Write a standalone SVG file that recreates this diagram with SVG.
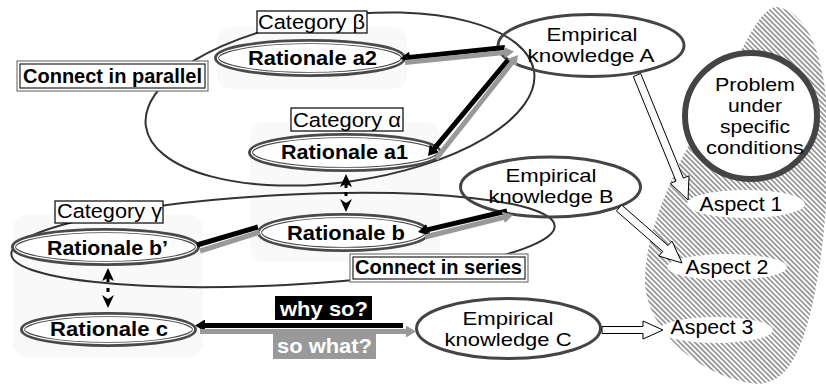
<svg xmlns="http://www.w3.org/2000/svg" width="826" height="385" viewBox="0 0 826 385">
<defs>
<style>
text { font-family: "Liberation Sans", Arial, Helvetica, sans-serif; fill: #000; }
.reg { font-size: 20.5px; text-anchor: middle; }
.ml { font-size: 19px; }
.bold { font-size: 21px; font-weight: bold; text-anchor: middle; }
.wt { fill: #fff; }
.bg { fill: #f9f9f9; }
.group { fill: none; stroke: #333; stroke-width: 2; }
.rat { fill: #fff; stroke: #4a4a4a; stroke-width: 5; }
.rat-in { fill: none; stroke: #fff; stroke-width: 1.3; }
.emp { fill: none; stroke: #444; stroke-width: 3; }
.aspect { fill: #fff; stroke: none; }
.cat { fill: #fff; stroke: #000; stroke-width: 1.2; }
.dbl-o { fill: #fff; stroke: #777; stroke-width: 1.2; }
.dbl-i { fill: none; stroke: #222; stroke-width: 1.2; }
.blk { fill: none; stroke: #000; stroke-width: 5; }
.gry { fill: none; stroke: #999; stroke-width: 5; }
.hollow { fill: #fbfbfb; stroke: #000; stroke-width: 1; }
.dot { fill: #000; }
</style>
<marker id="hb" viewBox="0 0 10 12" refX="3" refY="6" markerWidth="10" markerHeight="12" markerUnits="userSpaceOnUse" orient="auto">
<path d="M0,0 L10,6 L0,12 Z" fill="#000"/>
</marker>
<marker id="hg" viewBox="0 0 10 12" refX="3" refY="6" markerWidth="10" markerHeight="12" markerUnits="userSpaceOnUse" orient="auto">
<path d="M0,0 L10,6 L0,12 Z" fill="#999"/>
</marker>
<pattern id="hatch" patternUnits="userSpaceOnUse" width="3.6" height="3.6" patternTransform="rotate(-45)">
<rect width="3.6" height="3.6" fill="#fff"/>
<rect width="1.8" height="3.6" fill="#999"/>
</pattern>
</defs>

<!-- faint backgrounds -->
<g id="backgrounds">
<rect class="bg" x="217" y="27" width="190" height="62" rx="14"/>
<rect class="bg" x="250" y="122" width="190" height="140" rx="14"/>
<rect class="bg" x="13" y="215" width="190" height="142" rx="14"/>
</g>

<!-- problem area -->
<g id="problem-area">
<path d="M777,7 C800,10 826,40 828,130 C830,220 815,330 790,365 C780,380 765,386 750,383 C700,375 645,330 645,280 C645,220 690,140 715,100 C740,55 760,5 777,7 Z" fill="url(#hatch)"/>
</g>

<!-- grouping ellipses -->
<g id="category-beta-alpha">
<ellipse class="group" cx="340" cy="99" rx="196" ry="83" transform="rotate(-8 340 99)"/>
</g>
<g id="category-gamma">
<ellipse class="group" cx="283" cy="240" rx="272" ry="45" transform="rotate(-3 283 240)"/>
</g>

<!-- rationale nodes -->
<g id="rationale-a2">
<ellipse class="rat" cx="310" cy="58" rx="93.5" ry="16.5"/>
<ellipse class="rat-in" cx="310" cy="58" rx="92.5" ry="15.5"/>
<text class="bold" x="312.5" y="65" textLength="129" lengthAdjust="spacingAndGlyphs">Rationale a2</text>
</g>
<g id="rationale-a1">
<ellipse class="rat" cx="345" cy="152.5" rx="94.5" ry="17"/>
<ellipse class="rat-in" cx="345" cy="152.5" rx="93.5" ry="16"/>
<text class="bold" x="344.5" y="159" textLength="127" lengthAdjust="spacingAndGlyphs">Rationale a1</text>
</g>
<g id="rationale-b">
<ellipse class="rat" cx="343.5" cy="232.5" rx="84" ry="17"/>
<ellipse class="rat-in" cx="343.5" cy="232.5" rx="83" ry="16"/>
<text class="bold" x="346" y="240" textLength="118" lengthAdjust="spacingAndGlyphs">Rationale b</text>
</g>
<g id="rationale-b-prime">
<ellipse class="rat" cx="105.5" cy="247" rx="92" ry="16.5"/>
<ellipse class="rat-in" cx="105.5" cy="247" rx="91" ry="15.5"/>
<text class="bold" x="107.5" y="255" textLength="121" lengthAdjust="spacingAndGlyphs">Rationale b’</text>
</g>
<g id="rationale-c">
<ellipse class="rat" cx="108.5" cy="329.5" rx="86" ry="15"/>
<ellipse class="rat-in" cx="108.5" cy="329.5" rx="85" ry="14"/>
<text class="bold" x="109" y="336" textLength="118" lengthAdjust="spacingAndGlyphs">Rationale c</text>
</g>

<!-- empirical knowledge -->
<g id="empirical-a">
<ellipse class="emp" cx="591" cy="45.5" rx="93" ry="31"/>
<text class="reg ml" x="592" y="41" textLength="91" lengthAdjust="spacingAndGlyphs">Empirical</text>
<text class="reg ml" x="591" y="62" textLength="127" lengthAdjust="spacingAndGlyphs">knowledge A</text>
</g>
<g id="empirical-b">
<ellipse class="emp" cx="550.5" cy="187" rx="90" ry="30"/>
<text class="reg ml" x="551" y="182" textLength="91" lengthAdjust="spacingAndGlyphs">Empirical</text>
<text class="reg ml" x="551" y="203" textLength="125" lengthAdjust="spacingAndGlyphs">knowledge B</text>
</g>
<g id="empirical-c">
<ellipse class="emp" cx="508.5" cy="328.5" rx="92" ry="30"/>
<text class="reg ml" x="508" y="325" textLength="91" lengthAdjust="spacingAndGlyphs">Empirical</text>
<text class="reg ml" x="508" y="346" textLength="127" lengthAdjust="spacingAndGlyphs">knowledge C</text>
</g>

<!-- problem -->
<g id="problem">
<ellipse cx="751" cy="116" rx="66" ry="63" fill="#fff" stroke="#444" stroke-width="6"/>
<text class="reg ml" x="755" y="91" textLength="80" lengthAdjust="spacingAndGlyphs">Problem</text>
<text class="reg ml" x="755" y="112" textLength="54" lengthAdjust="spacingAndGlyphs">under</text>
<text class="reg ml" x="755" y="133" textLength="70" lengthAdjust="spacingAndGlyphs">specific</text>
<text class="reg ml" x="755" y="154" textLength="98" lengthAdjust="spacingAndGlyphs">conditions</text>
</g>

<!-- aspects -->
<g id="aspect-1">
<ellipse class="aspect" cx="746" cy="204" rx="59" ry="14"/>
<text class="reg" x="741" y="211" textLength="83" lengthAdjust="spacingAndGlyphs">Aspect 1</text>
</g>
<g id="aspect-2">
<ellipse class="aspect" cx="727" cy="267" rx="60" ry="13"/>
<text class="reg" x="727" y="274" textLength="83" lengthAdjust="spacingAndGlyphs">Aspect 2</text>
</g>
<g id="aspect-3">
<ellipse class="aspect" cx="716" cy="330" rx="57" ry="13"/>
<text class="reg" x="712" y="334" textLength="83" lengthAdjust="spacingAndGlyphs">Aspect 3</text>
</g>

<!-- connectors -->
<g id="connectors">
<line class="blk" x1="505" y1="47.5" x2="407" y2="57.8" marker-end="url(#hb)"/>
<line class="gry" x1="405" y1="62.5" x2="507" y2="52.2" marker-end="url(#hg)"/>
<line class="blk" x1="508" y1="60" x2="432.5" y2="150.6" marker-end="url(#hb)"/>
<line class="gry" x1="436" y1="159" x2="513.7" y2="60.5" marker-end="url(#hg)"/>
<line class="blk" x1="507" y1="211" x2="424.8" y2="230.4" marker-end="url(#hb)"/>
<line class="gry" x1="425" y1="237" x2="506.2" y2="216.7" marker-end="url(#hg)"/>
<line class="blk" x1="197" y1="245" x2="258" y2="227"/>
<line class="gry" x1="200" y1="251" x2="260" y2="232"/>
<line class="blk" x1="403" y1="325.5" x2="202" y2="325.5" marker-end="url(#hb)"/>
<line class="gry" x1="200" y1="331.5" x2="409" y2="331.5" marker-end="url(#hg)"/>
<polygon class="dot" points="346,174 352,187 346,184 340,187"/>
<rect class="dot" x="344.5" y="184" width="3" height="4"/>
<rect class="dot" x="344.5" y="192" width="3" height="4"/>
<polygon class="dot" points="340,199 346,203 352,199 346,212"/>
<polygon class="dot" points="108,268 114,281 108,278 102,281"/>
<rect class="dot" x="106.5" y="278" width="3" height="4"/>
<rect class="dot" x="106.5" y="288" width="3" height="4"/>
<polygon class="dot" points="102,295 108,299 114,295 108,308"/>
<polygon class="hollow" points="633.3,76.5 676,181.1 670.4,183.4 688,200 689,175.8 683.4,178.1 640.7,73.5"/>
<polygon class="hollow" points="616.4,211 662.8,251.5 658.8,256 682,263 672,241 668,245.5 621.6,205"/>
<polygon class="hollow" points="602,326.5 643,326.5 643,321 663,330 643,339 643,333.5 602,333.5"/>
</g>

<!-- labels -->
<g id="label-category-beta">
<rect class="cat" x="257" y="11" width="110" height="22"/>
<text class="reg" x="311.5" y="29" textLength="107" lengthAdjust="spacingAndGlyphs">Category β</text>
</g>
<g id="label-category-alpha">
<rect class="cat" x="291" y="108" width="112" height="23"/>
<text class="reg" x="347" y="127" textLength="108" lengthAdjust="spacingAndGlyphs">Category α</text>
</g>
<g id="label-category-gamma">
<rect class="cat" x="55" y="201" width="108" height="22"/>
<text class="reg" x="109.5" y="218" textLength="105" lengthAdjust="spacingAndGlyphs">Category γ</text>
</g>
<g id="label-parallel">
<rect class="dbl-o" x="17" y="61" width="191" height="30"/>
<rect class="dbl-i" x="20" y="64" width="185" height="24"/>
<text class="bold" x="112.5" y="83" textLength="179" lengthAdjust="spacingAndGlyphs">Connect in parallel</text>
</g>
<g id="label-series">
<rect class="dbl-o" x="350" y="254" width="178" height="28"/>
<rect class="dbl-i" x="353" y="257" width="172" height="22"/>
<text class="bold" x="438.5" y="274" textLength="167" lengthAdjust="spacingAndGlyphs">Connect in series</text>
</g>
<g id="label-why-so">
<rect x="275" y="296" width="97" height="24" fill="#000"/>
<text class="bold wt" x="324" y="316" textLength="88" lengthAdjust="spacingAndGlyphs">why so?</text>
</g>
<g id="label-so-what">
<rect x="273" y="332" width="103" height="27" fill="#999"/>
<text class="bold wt" x="324.5" y="353" textLength="95" lengthAdjust="spacingAndGlyphs">so what?</text>
</g>
</svg>
